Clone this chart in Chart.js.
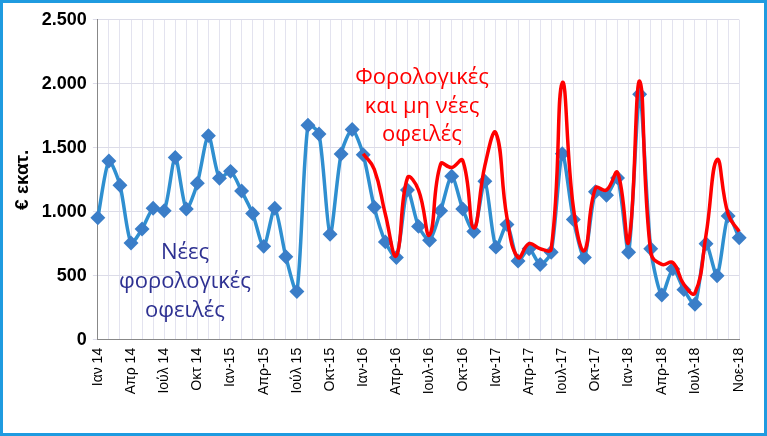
<!DOCTYPE html>
<html><head><meta charset="utf-8">
<script src="https://cdn.jsdelivr.net/npm/chart.js@4"></script>
<style>
html,body{margin:0;padding:0;background:#fff;}
#wrap{position:absolute;left:0;top:0;width:761px;height:430px;border:3px solid #1f9be0;}
</style></head><body>
<div id="wrap"><canvas id="c" width="761" height="430"></canvas></div>
<script>
const tickLabels = {0:"Ιαν 14",3:"Απρ 14",6:"Ιούλ 14",9:"Οκτ 14",12:"Ιαν-15",15:"Απρ-15",18:"Ιούλ 15",21:"Οκτ-15",24:"Ιαν-16",27:"Απρ-16",30:"Ιουλ-16",33:"Οκτ-16",36:"Ιαν-17",39:"Απρ-17",42:"Ιουλ-17",45:"Οκτ-17",48:"Ιαν-18",51:"Απρ-18",54:"Ιουλ-18",58:"Νοε-18"};
const categories = Array.from({length:59},(_, i)=>tickLabels[i]||"");
const newDebts = [954,1397,1208,757,865,1027,1008,1424,1022,1224,1595,1262,1316,1162,986,730,1027,649,378,1676,1608,824,1451,1643,
 1446,1035,765,643,1170,886,778,1008,1278,1022,846,1238,724,900,616,711,589,684,1454,940,643,1157,1130,1265,684,1919,711,350,554,392,278,751,500,968,797];
const allDebts = [null,null,null,null,null,null,null,null,null,null,null,null,null,null,null,null,null,null,null,null,null,null,null,null,
 1454,1332,981,657,1265,1170,819,1373,1346,1400,873,1360,1616,954,643,751,711,711,2008,1035,697,1184,1170,1305,765,2022,684,589,603,432,365,819,1408,981,846];
const yTicks = [0,500,1000,1500,2000,2500];
const yTickLabels = {0:"0",500:"500",1000:"1.000",1500:"1.500",2000:"2.000",2500:"2.500"};

const notes = {id:'notes',afterDraw(ch){const c=ch.ctx;c.save();c.textAlign='center';c.textBaseline='middle';
 c.font='22px "Liberation Sans Narrow", "Open Sans", sans-serif';c.fillStyle='#2e3192';
 [['Νέες',250],['φορολογικές',279],['οφειλές',308]].forEach(([t,y])=>c.fillText(t,182,y));
 c.fillStyle='#ff0000';
 [['Φορολογικές',75],['και μη νέες',104],['οφειλές',132]].forEach(([t,y])=>c.fillText(t,419,y));
 c.restore();}};

new Chart(document.getElementById('c'),{
 type:'line',
 data:{labels:categories,datasets:[
  {data:allDebts,borderColor:'#ff0000',borderWidth:3.5,pointRadius:0,tension:0.45,spanGaps:false,order:0},
  {data:newDebts,borderColor:'#2f8fd0',borderWidth:3.5,pointStyle:'rectRot',pointRadius:5,pointBackgroundColor:'#3b7ec8',pointBorderColor:'#3b7ec8',tension:0.25,order:1}
 ]},
 options:{responsive:false,animation:false,
  layout:{padding:{top:12,right:8,left:6,bottom:30}},
  plugins:{legend:{display:false},tooltip:{enabled:false}},
  scales:{
   x:{offset:false,grid:{color:'#e3e3ef',drawTicks:false},border:{color:'#888'},
      ticks:{autoSkip:false,maxRotation:90,minRotation:90,color:'#000',font:{family:'Arial',size:14},padding:8,
      callback:(v,i)=>categories[i]}},
   y:{min:0,max:2500,afterBuildTicks:a=>{a.ticks=yTicks.map(v=>({value:v}));},
      grid:{color:'#dcdce8',drawTicks:true,tickLength:5},border:{color:'#888'},
      ticks:{color:'#000',font:{family:'Arial',size:18,weight:'bold'},padding:6,
      callback:v=>yTickLabels[v]},
      title:{display:true,text:'€ εκατ.',color:'#000',font:{family:'Arial',size:19,weight:'bold'},padding:2}}
  }},
 plugins:[notes]});
</script></body></html>
